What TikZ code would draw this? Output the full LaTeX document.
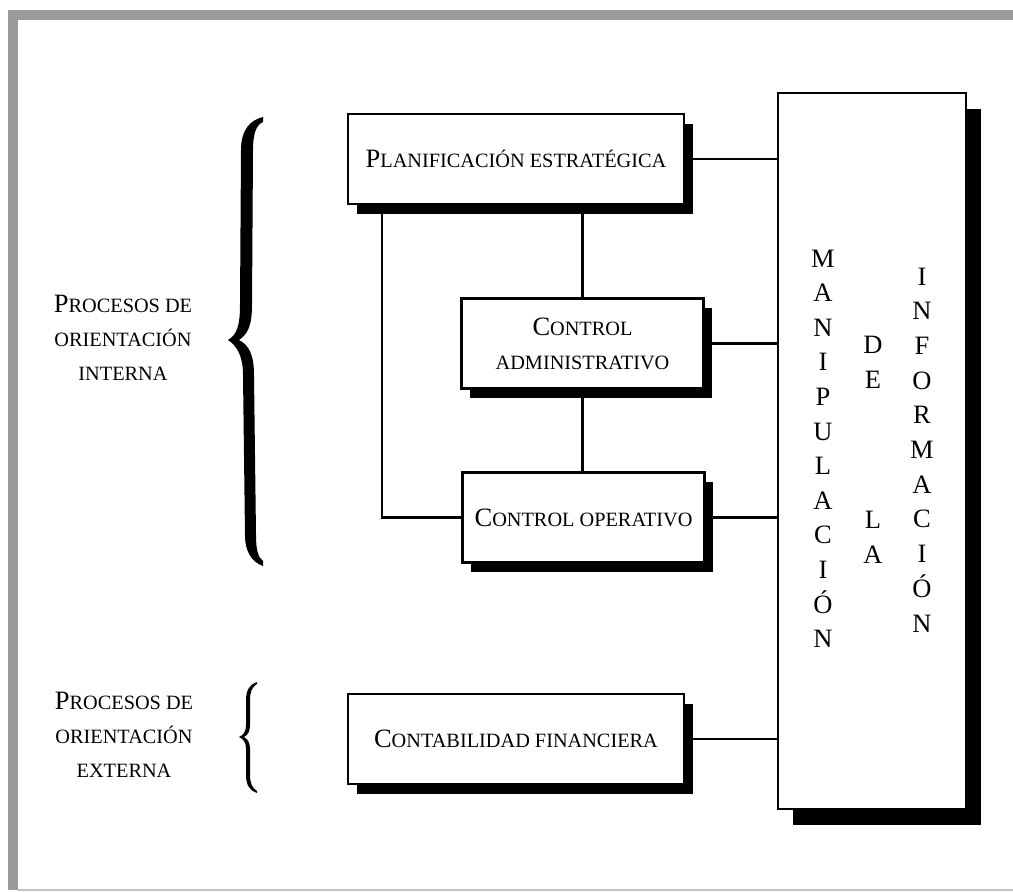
\documentclass[tikz,border=0pt]{standalone}
\usepackage{fontspec}
\setmainfont{Liberation Serif}
\usetikzlibrary{shadows}
\definecolor{framegray}{HTML}{9A9A9A}
\definecolor{edgegray}{HTML}{C4C4C4}
\newcommand\smc[1]{{\fontsize{20.3}{34}\selectfont #1}}
\begin{document}
\begin{tikzpicture}[x=1pt,y=-1pt,
  txt/.style={font=\fontsize{26.5}{34}\selectfont, align=center, inner sep=0pt},
  procbox/.style={draw, line width=2.9pt, fill=white, txt,
    drop shadow={shadow xshift=8.5pt, shadow yshift=-9.5pt, fill=black, opacity=1}},
  bigbox/.style={draw, line width=2.9pt, fill=white,
    drop shadow={shadow xshift=15pt, shadow yshift=-16pt, fill=black, opacity=1}},
  link/.style={line width=2.4pt},
  vl/.style={font=\fontsize{26.5}{34}\selectfont, inner sep=0pt, anchor=base},
  lbl/.style={txt}]
\useasboundingbox (0,0) rectangle (1013,892);
% frame
\fill[framegray] (8,10) rectangle (1013,20);
\fill[framegray] (8,10) rectangle (18,890);
\draw[edgegray, line width=1.5pt] (18,890) -- (1013,890);

% boxes
\node[bigbox, minimum width=188pt, minimum height=716pt] (big) at (872,451) {};
\node[procbox, minimum width=336pt, minimum height=90pt] (plan) at (516,159)
  {P\smc{LANIFICACIÓN ESTRATÉGICA}};
\node[procbox, minimum width=242pt, minimum height=90pt] (adm) at (582.5,343.5)
  {C\smc{ONTROL}\\\smc{ADMINISTRATIVO}};
\node[procbox, minimum width=242pt, minimum height=90pt] (op) at (583.5,517.5)
  {C\smc{ONTROL OPERATIVO}};
\node[procbox, minimum width=336pt, minimum height=90pt] (cont) at (516,739)
  {C\smc{ONTABILIDAD FINANCIERA}};

% vertical letters
\foreach \l [count=\i] in {M,A,N,I,P,U,L,A,C,I,Ó,N}
  \node[vl] (ma\i) at (823,{267+34.6*(\i-1)}) {\l};
\node[vl] (d1) at (873,353) {D};
\node[vl] (d2) at (873,388) {E};
\node[vl] (l1) at (873,528) {L};
\node[vl] (l2) at (873,563) {A};
\foreach \l [count=\i] in {I,N,F,O,R,M,A,C,I,Ó,N}
  \node[vl] (in\i) at (922,{285+34.7*(\i-1)}) {\l};

% labels
\node[lbl] (pint) at (123,338) {P\smc{ROCESOS DE}\\\smc{ORIENTACIÓN}\\\smc{INTERNA}};
\node[lbl] (pext) at (124,735) {P\smc{ROCESOS DE}\\\smc{ORIENTACIÓN}\\\smc{EXTERNA}};

% braces
\fill (263,117) .. controls (250,120) and (241,130) .. (241,150) -- (240,305)
  .. controls (240,325) and (237,335) .. (228,340)
  .. controls (237,346) and (243,356) .. (243,375) -- (245,535)
  .. controls (245,552) and (252,562) .. (263,566) -- (263,561)
  .. controls (258,557) and (256,550) .. (256,535) -- (254,375)
  .. controls (254,355) and (249,345) .. (239,340)
  .. controls (248,334) and (252,325) .. (252,305) -- (253,150)
  .. controls (253,134) and (256,125) .. (263,122) -- cycle;
\fill (257,682) .. controls (250,684) and (246,690) .. (246,700) -- (246,725)
  .. controls (246,731) and (244,735) .. (239,737)
  .. controls (244,739) and (246,743) .. (246,749) -- (246,775)
  .. controls (246,785) and (250,791) .. (257,793) -- (257,791)
  .. controls (252,788) and (250,783) .. (250,775) -- (250,749)
  .. controls (250,743) and (248,739) .. (244,737)
  .. controls (248,735) and (250,731) .. (250,725) -- (250,700)
  .. controls (250,692) and (252,687) .. (257,684) -- cycle;

% connectors
\coordinate (lx) at (382,0);
\draw[link] (plan.east) -- (plan.east -| big.west);
\draw[link] (adm.east) -- (adm.east -| big.west);
\draw[link] (op.east) -- (op.east -| big.west);
\draw[link] (cont.east) -- (cont.east -| big.west);
\draw[link] (adm.north) -- (adm.north |- plan.south);
\draw[link] (adm.south) -- (adm.south |- op.north);
\draw[link] (plan.south -| lx) |- (op.west);
\end{tikzpicture}
\end{document}
